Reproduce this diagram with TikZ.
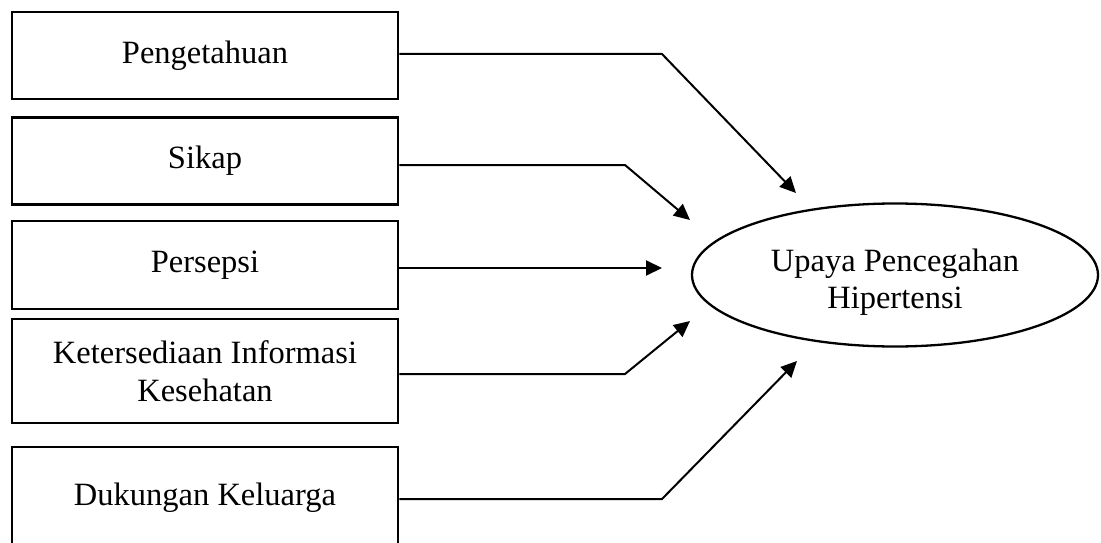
\documentclass[tikz,border=0pt]{standalone}
\usepackage{fontspec}
\setmainfont{Liberation Serif}
\usetikzlibrary{arrows.meta,shapes.geometric}
\begin{document}
\begin{tikzpicture}[x=1pt,y=-1pt,
  txt/.style={align=center,font=\fontsize{32.5}{37.5}\selectfont},
  box/.style={draw,line width=2.6pt,rectangle,minimum width=386pt,inner sep=0pt,txt},
  target/.style={draw,line width=2.3pt,ellipse,minimum width=406pt,minimum height=143pt,inner sep=0pt},
  conn/.style={line width=2pt,-{Triangle[length=16pt,width=15pt]}}]
\useasboundingbox (0,0) rectangle (1101,543);
\node[box,minimum height=87pt] (b1) at (205,55.5) {Pengetahuan};
\node[box,minimum height=87pt] (b2) at (205,161) {Sikap};
\node[box,minimum height=88pt] (b3) at (205,265) {Persepsi};
\node[box,minimum height=104pt] (b4) at (205,371) {Ketersediaan Informasi\\Kesehatan};
\node[box,minimum height=102pt] (b5) at (205,498) {Dukungan Keluarga};
\node[target,label={[txt,yshift=-7pt]center:Upaya Pencegahan\\Hipertensi}] (t) at (895,275) {};
\coordinate (h1) at (662,54);
\coordinate (h2) at (625,165);
\coordinate (h3) at (662,268);
\coordinate (h4) at (625,374);
\coordinate (h5) at (662,499);
\coordinate (e1) at (796,193);
\coordinate (e2) at (690,220);
\coordinate (e4) at (690,321);
\coordinate (e5) at (797,361);
\draw[conn] (b1.east |- h1) -- (h1) -- (e1);
\draw[conn] (b2.east |- h2) -- (h2) -- (e2);
\draw[conn] (b3.east |- h3) -- (h3);
\draw[conn] (b4.east |- h4) -- (h4) -- (e4);
\draw[conn] (b5.east |- h5) -- (h5) -- (e5);
\end{tikzpicture}
\end{document}
